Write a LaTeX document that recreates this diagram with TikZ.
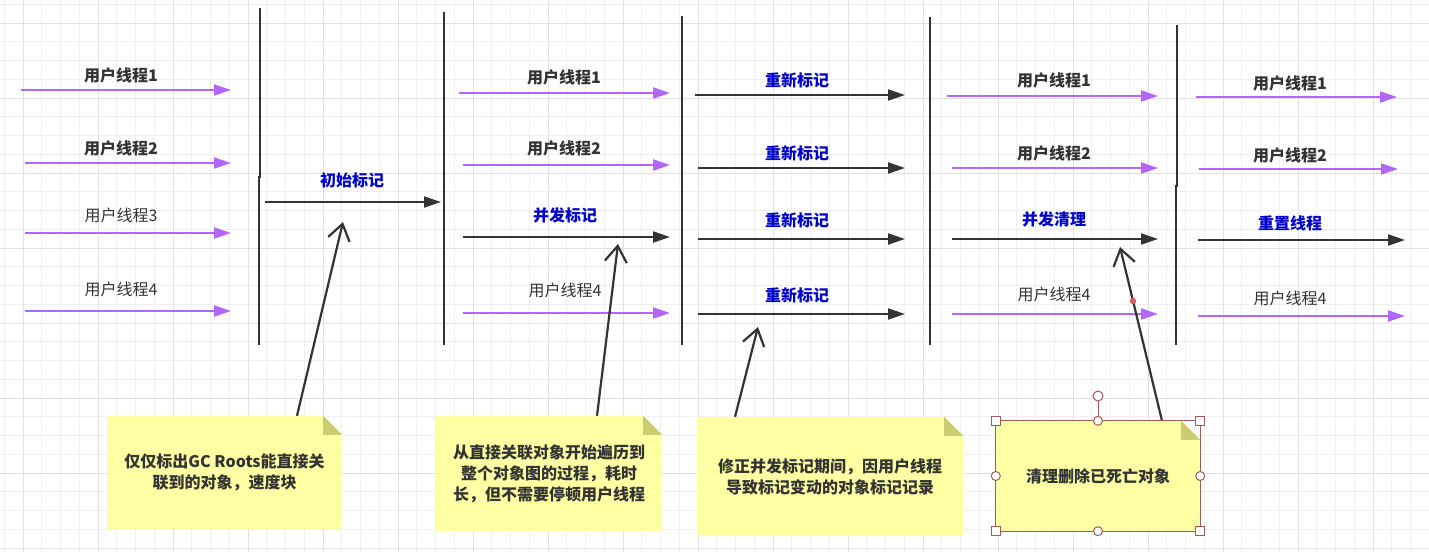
\documentclass[tikz,border=0pt]{standalone}
\usepackage{fontspec}
\setmainfont{Noto Sans CJK SC}
\usetikzlibrary{arrows.meta}
\definecolor{purp}{HTML}{B266FF}
\definecolor{ink}{HTML}{333333}
\definecolor{lblue}{HTML}{0000CC}
\definecolor{notefill}{HTML}{FFFFA3}
\definecolor{foldfill}{HTML}{CCCC70}
\definecolor{gridminor}{HTML}{EFEFEF}
\definecolor{gridmajor}{HTML}{E0E0E0}
\definecolor{selc}{HTML}{A05A5A}
\definecolor{dotred}{HTML}{E05A5A}
\pgfdeclarelayer{bg}
\pgfdeclarelayer{notes}
\pgfsetlayers{bg,notes,main}
\begin{document}
\begin{tikzpicture}[x=1pt,y=-1pt,
  arrowp/.style={draw=purp, line width=2.2pt, -{Triangle[length=17pt,width=11pt]}},
  arrowk/.style={draw=ink, line width=2.2pt, -{Triangle[length=17pt,width=11pt]}},
  lab/.style={inner sep=0pt, font=\fontsize{16}{19}\selectfont},
  labb/.style={lab, text=ink, font=\bfseries\fontsize{16}{19}\selectfont},
  labr/.style={lab, text=ink},
  labk/.style={lab, text=lblue, font=\bfseries\fontsize{16}{19}\selectfont},
  bar/.style={draw=ink, line width=2.5pt},
  pointer/.style={draw=ink, line width=2.2pt, -{Straight Barb[length=16pt,width=22pt]}},
  note/.style={inner sep=0pt, align=center, text=ink, font=\bfseries\fontsize{16}{21}\selectfont},
  handle/.style={draw=selc, fill=white, line width=1pt},
]
\useasboundingbox (0,0) rectangle (1429,552);
% grid
\begin{pgfonlayer}{bg}
\fill[white] (0,0) rectangle (1429,552);
\foreach \i in {0,...,76}{
  \pgfmathsetmacro\xx{4.25+18.75*\i}
  \draw[gridminor, line width=1pt] (\xx,0) -- (\xx,552);
}
\foreach \i in {0,...,29}{
  \pgfmathsetmacro\yy{4.25+18.75*\i}
  \draw[gridminor, line width=1pt] (0,\yy) -- (1429,\yy);
}
\foreach \i in {0,...,18}{
  \pgfmathsetmacro\xx{23+75*\i}
  \draw[gridmajor, line width=1pt] (\xx,0) -- (\xx,552);
}
\foreach \i in {0,...,7}{
  \pgfmathsetmacro\yy{23+75*\i}
  \draw[gridmajor, line width=1pt] (0,\yy) -- (1429,\yy);
}
\end{pgfonlayer}

% vertical bars
\coordinate (v1a) at (260,8);   \coordinate (v1b) at (260,178);
\coordinate (v1c) at (259,176); \coordinate (v1d) at (259,345);
\coordinate (v2a) at (444,12);  \coordinate (v2b) at (444,345);
\coordinate (v3a) at (682,16);  \coordinate (v3b) at (682,345);
\coordinate (v4a) at (930,17);  \coordinate (v4b) at (930,345);
\coordinate (v5a) at (1177,25); \coordinate (v5b) at (1177,187);
\coordinate (v5c) at (1176,185);\coordinate (v5d) at (1176,345);
\draw[bar] (v1a) -- (v1b);
\draw[bar] (v1c) -- (v1d);
\draw[bar] (v2a) -- (v2b);
\draw[bar] (v3a) -- (v3b);
\draw[bar] (v4a) -- (v4b);
\draw[bar] (v5a) -- (v5b);
\draw[bar] (v5c) -- (v5d);

% arrows and labels
\foreach \n/\xa/\xb/\y/\lx/\ly/\t/\as/\ls in {
  1/21/231/90/121/75/用户线程1/arrowp/labb,
  2/25/231/163/121/148/用户线程2/arrowp/labb,
  3/25/231/233/121/215/用户线程3/arrowp/labr,
  4/25/231/311/121/289/用户线程4/arrowp/labr,
  5/265/441/202/352/180/初始标记/arrowk/labk,
  6/459/670/93/564/77/用户线程1/arrowp/labb,
  7/463/670/165/564/148/用户线程2/arrowp/labb,
  8/463/670/237/565/215/并发标记/arrowk/labk,
  9/463/670/313/565/290/用户线程4/arrowp/labr,
  10/695/905/95/797/80/重新标记/arrowk/labk,
  11/698/905/168/797/153/重新标记/arrowk/labk,
  12/698/905/239/797/220/重新标记/arrowk/labk,
  13/698/905/314/797/295/重新标记/arrowk/labk,
  14/947/1158/96/1054/80/用户线程1/arrowp/labb,
  15/952/1158/168/1054/153/用户线程2/arrowp/labb,
  16/952/1158/239/1054/219/并发清理/arrowk/labk,
  17/952/1158/314/1054/294/用户线程4/arrowp/labr,
  18/1196/1397/97/1290/83/用户线程1/arrowp/labb,
  19/1199/1398/169/1290/155/用户线程2/arrowp/labb,
  20/1198/1405/240/1290/223/重置线程/arrowk/labk,
  21/1198/1405/316/1290/298/用户线程4/arrowp/labr}{
  \coordinate (s\n) at (\xa,\y);
  \coordinate (e\n) at (\xb,\y);
  \draw[\as] (s\n) -- (e\n);
  \node[\ls] (l\n) at (\lx,\ly) {\t};
}

% notes
\node[note, minimum width=235pt, minimum height=113pt] (n1) at (224.5,472.5)
  {仅仅标出GC Roots能直接关\\联到的对象，速度块};
\node[note, minimum width=226pt, minimum height=115pt] (n2) at (549,473.5)
  {从直接关联对象开始遍历到\\整个对象图的过程，耗时\\长，但不需要停顿用户线程};
\node[note, minimum width=266pt, minimum height=119pt] (n3) at (830,476.5)
  {修正并发标记期间，因用户线程\\导致标记变动的对象标记记录};
\node[note, minimum width=204pt, minimum height=110pt] (n4) at (1098,476)
  {清理删除已死亡对象};

\begin{pgfonlayer}{notes}
\foreach \nn in {n1,n2,n3,n4}{
  \fill[notefill] (\nn.north west) -- ([xshift=-19pt]\nn.north east)
    -- ([yshift=-19pt]\nn.north east) -- (\nn.south east) -- (\nn.south west) -- cycle;
  \fill[foldfill] ([xshift=-19pt]\nn.north east) -- ([xshift=-19pt,yshift=-19pt]\nn.north east)
    -- ([yshift=-19pt]\nn.north east) -- cycle;
}
\end{pgfonlayer}

% pointers
\coordinate (t1) at (343,222);
\coordinate (t2) at (618,244);
\coordinate (t3) at (758,327);
\coordinate (t4) at (1120,247);
\draw[pointer] ([xshift=72.5pt]n1.north) -- (t1);
\draw[pointer] ([xshift=48pt]n2.north) -- (t2);
\draw[pointer] ([xshift=-95pt]n3.north) -- (t3);
\draw[pointer] ([xshift=64pt]n4.north) -- (t4);
\coordinate (rd) at (1133,301);
\fill[dotred] (rd) circle (3.2pt);

% selection of note 4
\draw[selc, line width=1pt] (n4.north west) rectangle (n4.south east);
\coordinate (rot) at (1098,396);
\draw[selc, line width=1pt] ([yshift=-5pt]rot) -- (n4.north);
\draw[handle] (rot) circle (5pt);
\foreach \a in {north west,north east,south west,south east}{
  \draw[handle] ([xshift=-4.5pt,yshift=-4.5pt]n4.\a) rectangle ([xshift=4.5pt,yshift=4.5pt]n4.\a);
}
\foreach \a in {north,south,west,east}{
  \draw[handle] (n4.\a) circle (4.5pt);
}
\end{tikzpicture}
\end{document}
